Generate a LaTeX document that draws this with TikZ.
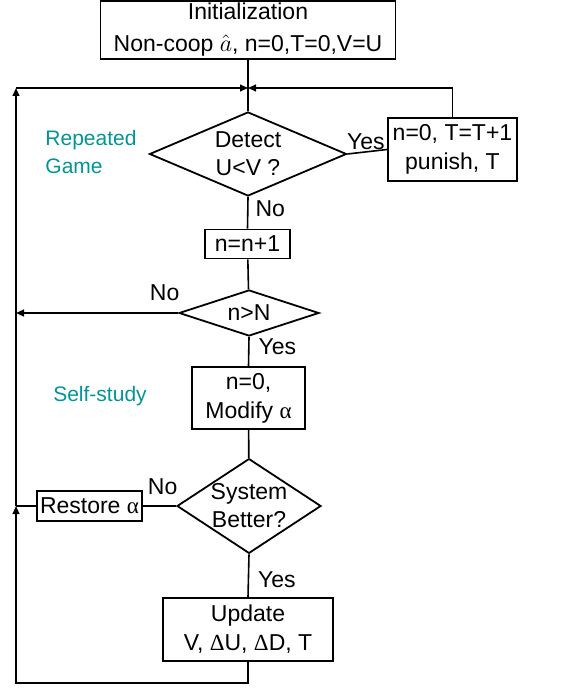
\documentclass[tikz,border=0pt]{standalone}
\usepackage{fontspec}
\setmainfont{Liberation Sans}
\newfontfamily\symgr{Liberation Serif}
\usetikzlibrary{arrows.meta,shapes.geometric}
\definecolor{grp}{RGB}{0,150,150}
\newcommand{\flowfont}{\fontsize{11.5}{14.5}\selectfont}
\tikzset{
  procbox/.style={draw,line width=0.9pt,inner sep=1pt,align=center,font=\flowfont},
  decision/.style={draw,diamond,line width=0.9pt,inner sep=0pt,align=center,
                   font=\fontsize{11.5}{14}\selectfont},
  flow/.style={line width=0.8pt},
  arr/.style={flow,-{Triangle[length=4pt,width=3.4pt]}},
  lbl/.style={inner sep=1.5pt,font=\flowfont},
  grplbl/.style={text=grp,align=left,inner sep=0pt,font=\fontsize{10.5}{14}\selectfont}
}

\begin{document}
\begin{tikzpicture}[x=0.5pt,y=-0.5pt]
\useasboundingbox (0,0) rectangle (574,688);

% boxes and decisions
\node[procbox,minimum width=147.5pt,minimum height=27pt] (init) at (248,30)
  {Initialization\\[1.5pt]Non-coop $\hat{a}$, n=0,T=0,V=U};
\node[decision,minimum width=98.5pt,minimum height=42pt,shape aspect=2.35] (detect) at (248,154)
  {Detect\\U<V ?};
\node[procbox,minimum width=64.5pt,minimum height=31.5pt] (punish) at (452.5,149.5)
  {n=0, T=T+1\\punish, T};
\node[procbox,minimum width=42.5pt,minimum height=14.5pt] (incr) at (247.5,244) {n=n+1};
\node[decision,minimum width=70pt,minimum height=23pt,shape aspect=3.04] (limit) at (249,313) {n>N};
\node[procbox,minimum width=56.5pt,minimum height=31pt] (modify) at (248.5,398)
  {n=0,\\Modify {\symgr α}};
\node[decision,minimum width=70pt,minimum height=46pt,shape aspect=1.52] (better) at (249,506)
  {System\\Better?};
\node[procbox,minimum width=52.5pt,minimum height=15pt] (restore) at (89.5,506) {Restore {\symgr α}};
\node[procbox,minimum width=85pt,minimum height=31.5pt] (update) at (248,629.5)
  {Update\\V, {\symgr Δ}U, {\symgr Δ}D, T};

% phase names
\node[grplbl] (rgame) at (91,152) {Repeated\\Game};
\node[grplbl] (sstudy) at (100,396) {Self-study};

% corners of the return loop
\coordinate (jn) at (248,88);
\coordinate (tl) at (16,88);
\coordinate (rj) at (16,506);
\coordinate (bl) at (16,683);

% connectors
\draw[flow] (init) -- (detect);
\draw[flow] (detect.east) -- (punish.west) node[lbl,pos=0,anchor=south west,xshift=-2pt] {Yes};
\draw[arr] (punish.north) |- (jn);
\draw[flow] (detect.south) -- (incr.north) node[lbl,pos=0.38,anchor=west,xshift=2pt] {No};
\draw[flow] (incr) -- (limit);
\draw[arr] (limit.west) -- (limit.west -| tl) node[lbl,pos=0,anchor=south east,xshift=2.5pt,yshift=4pt] {No};
\draw[flow] (limit.south) -- (modify.north) node[lbl,pos=0.35,anchor=west,xshift=3pt] {Yes};
\draw[flow] (modify) -- (better);
\draw[flow] (better.west) -- (restore.east) node[lbl,pos=0,anchor=south east,xshift=2.5pt,yshift=3.5pt] {No};
\draw[flow] (better.south) -- (update.north) node[lbl,pos=0.6,anchor=west,xshift=3pt] {Yes};
\draw[flow] (restore) -- (rj);
\draw[arr] (update.south) |- (bl) -- (rj);
\draw[arr] (rj) -- (tl);
\draw[arr] (tl) -- (jn);
\end{tikzpicture}
\end{document}
